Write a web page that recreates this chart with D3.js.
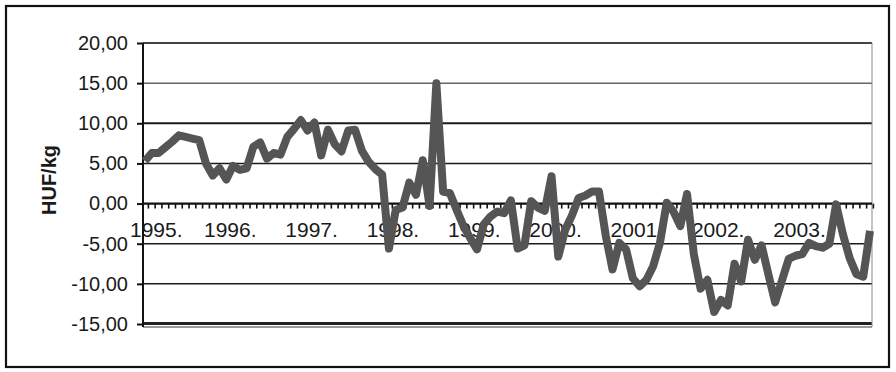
<!DOCTYPE html>
<html>
<head>
<meta charset="utf-8">
<script src="https://cdn.jsdelivr.net/npm/d3@7"></script>
<style>
  body { margin: 0; background: #fff; }
  svg { display: block; }
  text { font-family: "Liberation Sans", Arial, sans-serif; fill: #1a1a1a; }
</style>
</head>
<body>
<svg id="chart" width="896" height="372"></svg>
<script>
// Monthly price margin, HUF/kg, January 1995 – December 2003
const yearLabels = ["1995.", "1996.", "1997.", "1998.", "1999.", "2000.", "2001.", "2002.", "2003."];
const yTickValues = [20, 15, 10, 5, 0, -5, -10, -15];
const yTickLabels = ["20,00", "15,00", "10,00", "5,00", "0,00", "-5,00", "-10,00", "-15,00"];

const values1995 = [5.3, 6.3, 6.3, 7.0, 7.7, 8.5, 8.3, 8.1, 7.9, 5.0, 3.5, 4.4];
const values1996 = [3.0, 4.7, 4.2, 4.4, 7.1, 7.6, 5.6, 6.3, 6.1, 8.3, 9.3, 10.4];
const values1997 = [9.1, 10.1, 6.0, 9.2, 7.4, 6.5, 9.1, 9.2, 6.6, 5.2, 4.3, 3.6];
const values1998 = [-5.6, -0.8, -0.5, 2.6, 1.1, 5.4, -0.3, 15.0, 1.5, 1.3, -0.8, -2.8];
const values1999 = [-4.3, -5.7, -2.6, -1.6, -1.0, -1.2, 0.4, -5.6, -5.2, 0.3, -0.5, -0.9];
const values2000 = [3.4, -6.6, -3.3, -1.5, 0.7, 1.0, 1.5, 1.5, -4.0, -8.2, -4.9, -5.7];
const values2001 = [-9.3, -10.3, -9.5, -7.8, -4.9, 0.1, -1.0, -2.8, 1.2, -6.3, -10.6, -9.5];
const values2002 = [-13.5, -12.0, -12.7, -7.5, -9.7, -4.5, -7.0, -5.2, -8.8, -12.3, -9.6, -6.9];
const values2003 = [-6.5, -6.3, -4.9, -5.3, -5.5, -5.0, -0.1, -3.8, -6.8, -8.8, -9.1, -3.4];

const values = [].concat(values1995, values1996, values1997, values1998, values1999,
                         values2000, values2001, values2002, values2003);

const svg = d3.select("#chart");

// outer frame
svg.append("rect")
  .attr("x", 6).attr("y", 6).attr("width", 883).attr("height", 361)
  .attr("fill", "none").attr("stroke", "#111").attr("stroke-width", 2.2);

const plot = { left: 143, right: 872, top: 43, bottom: 324 };

const y = d3.scaleLinear().domain([-15, 20]).range([plot.bottom, plot.top]);
const x = d3.scaleLinear().domain([0, values.length - 1]).range([145, 870]);

// horizontal gridlines
const grid = svg.append("g");
yTickValues.filter(v => v !== 0 && v !== -15 && v !== 20).forEach(v => {
  grid.append("line")
    .attr("x1", plot.left).attr("x2", plot.right)
    .attr("y1", y(v)).attr("y2", y(v))
    .attr("stroke", v === 15 ? "#666" : "#1a1a1a")
    .attr("stroke-width", v === 10 ? 2 : 1.5);
});
// top edge of plot area
grid.append("line")
  .attr("x1", plot.left).attr("x2", plot.right)
  .attr("y1", y(20)).attr("y2", y(20))
  .attr("stroke", "#444").attr("stroke-width", 2);
// bottom edge (double rule)
grid.append("line")
  .attr("x1", plot.left).attr("x2", plot.right)
  .attr("y1", y(-15) - 0.5).attr("y2", y(-15) - 0.5)
  .attr("stroke", "#222").attr("stroke-width", 3);
grid.append("line")
  .attr("x1", plot.left).attr("x2", plot.right)
  .attr("y1", y(-15) + 3).attr("y2", y(-15) + 3)
  .attr("stroke", "#777").attr("stroke-width", 1.5);
// right edge of plot area
grid.append("line")
  .attr("x1", plot.right).attr("x2", plot.right)
  .attr("y1", y(20)).attr("y2", y(-15) + 3)
  .attr("stroke", "#888").attr("stroke-width", 1);

// value axis
const yAxis = d3.axisLeft(y)
  .tickValues(yTickValues)
  .tickSize(6)
  .tickSizeOuter(0)
  .tickPadding(9)
  .tickFormat((d, i) => yTickLabels[i]);
const ya = svg.append("g")
  .attr("transform", `translate(${plot.left},0)`)
  .call(yAxis);
ya.select(".domain").attr("stroke", "#111").attr("stroke-width", 2)
  .attr("d", `M0,${y(20)}V${y(-15) + 3}`);
ya.selectAll(".tick line").attr("stroke", "#111").attr("stroke-width", 2);
ya.selectAll(".tick text")
  .style("font-family", '"Liberation Sans", Arial, sans-serif')
  .style("font-size", "20px")
  .attr("fill", "#1a1a1a");

// category axis along zero
const zeroY = y(0);
const xa = svg.append("g");
xa.selectAll("line.mt")
  .data(d3.range(0, values.length))
  .join("line")
  .attr("class", "mt")
  .attr("x1", i => x(i + 0.5)).attr("x2", i => x(i + 0.5))
  .attr("y1", zeroY).attr("y2", zeroY + 5)
  .attr("stroke", "#111").attr("stroke-width", 1.6);
xa.append("line")
  .attr("x1", plot.left).attr("x2", plot.right)
  .attr("y1", zeroY).attr("y2", zeroY)
  .attr("stroke", "#111").attr("stroke-width", 2.2);

const yl = xa.selectAll("text.yr")
  .data(yearLabels)
  .join("text")
  .attr("class", "yr")
  .attr("y", zeroY + 33)
  .attr("text-anchor", "middle")
  .style("font-size", "21px")
  .text(d => d);
yl.each(function (d, k) {
  const w = this.getComputedTextLength();
  const cx = Math.max(x(k * 12) + 4, 130 + w / 2);
  d3.select(this).attr("x", cx);
});

// series line
const line = d3.line()
  .x((d, i) => x(i))
  .y(d => y(d));
svg.append("path")
  .datum(values)
  .attr("d", line)
  .attr("fill", "none")
  .attr("stroke", "#555")
  .attr("stroke-width", 8)
  .attr("stroke-linejoin", "round");

// axis title
svg.append("text")
  .attr("transform", "translate(56,180) rotate(-90)")
  .attr("text-anchor", "middle")
  .style("font-size", "20px")
  .style("font-weight", "bold")
  .text("HUF/kg");
</script>
</body>
</html>
